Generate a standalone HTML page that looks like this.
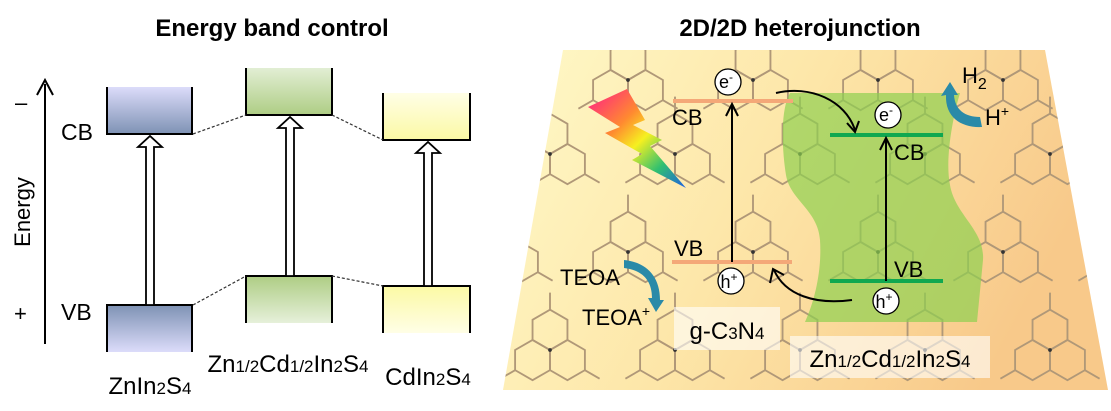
<!DOCTYPE html>
<html><head><meta charset="utf-8"><style>
html,body{margin:0;padding:0;background:#fff;}
svg{display:block;font-family:"Liberation Sans",Arial,sans-serif;}
</style></head><body>
<svg width="1111" height="411" viewBox="0 0 1111 411" xmlns="http://www.w3.org/2000/svg">
<defs>
<linearGradient id="bgG" x1="0" y1="0" x2="1" y2="0.3">
<stop offset="0" stop-color="#fff9c8"/><stop offset="0.5" stop-color="#fde6a8"/><stop offset="1" stop-color="#f8c98a"/></linearGradient>
<linearGradient id="bluCB" x1="0" y1="0" x2="0" y2="1"><stop offset="0" stop-color="#dcdcfa"/><stop offset="1" stop-color="#7e92b4"/></linearGradient>
<linearGradient id="bluVB" x1="0" y1="0" x2="0" y2="1"><stop offset="0" stop-color="#7e92b4"/><stop offset="1" stop-color="#dcdcfa"/></linearGradient>
<linearGradient id="grnCB" x1="0" y1="0" x2="0" y2="1"><stop offset="0" stop-color="#e2eed4"/><stop offset="1" stop-color="#aecd84"/></linearGradient>
<linearGradient id="grnVB" x1="0" y1="0" x2="0" y2="1"><stop offset="0" stop-color="#aecd84"/><stop offset="1" stop-color="#e6f0da"/></linearGradient>
<linearGradient id="ylwCB" x1="0" y1="0" x2="0" y2="1"><stop offset="0" stop-color="#fffee6"/><stop offset="1" stop-color="#fbf9a4"/></linearGradient>
<linearGradient id="ylwVB" x1="0" y1="0" x2="0" y2="1"><stop offset="0" stop-color="#fbf9a4"/><stop offset="1" stop-color="#fffee6"/></linearGradient>
<linearGradient id="bolt" gradientUnits="userSpaceOnUse" x1="595" y1="95" x2="685" y2="188">
<stop offset="0" stop-color="#ff2f7a"/><stop offset="0.3" stop-color="#ff8a30"/><stop offset="0.5" stop-color="#f6f020"/><stop offset="0.75" stop-color="#30c070"/><stop offset="1" stop-color="#2060e0"/></linearGradient>
<clipPath id="para"><polygon points="563,50 1045,50 1108,390 503,390"/></clipPath>
<symbol id="hz" overflow="visible">
<g fill="none" stroke="#b09878" stroke-width="1.2">
<polygon points="0,-26 11.26,-19.5 11.26,-6.5 0,0 -11.26,-6.5 -11.26,-19.5"/>
<polygon points="11.26,-6.5 22.52,0 22.52,13 11.26,19.5 0,13 0,0"/>
<polygon points="-11.26,-6.5 0,0 0,13 -11.26,19.5 -22.52,13 -22.52,0"/>
<path d="M0,-26V-37M22.52,13L32,18.5M-22.52,13L-32,18.5"/>
</g>
<circle r="1.2" fill="#333"/>
</symbol>
</defs>

<!-- LEFT PANEL -->
<text x="272" y="36" font-size="24" font-weight="bold" text-anchor="middle">Energy band control</text>
<line x1="45" y1="344" x2="45" y2="84" stroke="#000" stroke-width="2"/>
<polyline points="37,95 45,80 53,95" fill="none" stroke="#000" stroke-width="2"/>
<text x="15" y="110" font-size="22">–</text>
<text x="14" y="321" font-size="22">+</text>
<text transform="translate(30,212) rotate(-90)" font-size="22" text-anchor="middle">Energy</text>
<text x="61" y="140" font-size="23">CB</text>
<text x="61" y="320" font-size="23">VB</text>

<rect x="107" y="87" width="85" height="47" fill="url(#bluCB)"/>
<polyline points="107,87 107,134 192,134 192,87" fill="none" stroke="#000" stroke-width="2"/>
<rect x="107" y="305" width="85" height="47" fill="url(#bluVB)"/>
<polyline points="107,352 107,305 192,305 192,352" fill="none" stroke="#000" stroke-width="2"/>

<rect x="246" y="68" width="86" height="47" fill="url(#grnCB)"/>
<polyline points="246,68 246,115 332,115 332,68" fill="none" stroke="#000" stroke-width="2"/>
<rect x="246" y="276" width="86" height="47" fill="url(#grnVB)"/>
<polyline points="246,323 246,276 332,276 332,323" fill="none" stroke="#000" stroke-width="2"/>

<rect x="383" y="93" width="87" height="47" fill="url(#ylwCB)"/>
<polyline points="383,93 383,140 470,140 470,93" fill="none" stroke="#000" stroke-width="2"/>
<rect x="383" y="286" width="87" height="47" fill="url(#ylwVB)"/>
<polyline points="383,333 383,286 470,286 470,333" fill="none" stroke="#000" stroke-width="2"/>

<g stroke="#333" stroke-width="1.2" stroke-dasharray="3,2">
<line x1="193" y1="134" x2="246" y2="115"/><line x1="332" y1="115" x2="383" y2="140"/>
<line x1="193" y1="305" x2="246" y2="276"/><line x1="332" y1="276" x2="383" y2="286"/>
</g>
<g fill="#fff" stroke="#000" stroke-width="1.8">
<polygon points="146,305 146,147 138,147 150,136 162,147 154,147 154,305"/>
<polygon points="286,276 286,128 278,128 290,117 302,128 294,128 294,276"/>
<polygon points="424,286 424,153 416,153 428,142 440,153 432,153 432,286"/>
</g>
<text x="150" y="394" font-size="24" text-anchor="middle">ZnIn<tspan font-size="17">2</tspan>S<tspan font-size="17">4</tspan></text>
<text x="288" y="372" font-size="24" text-anchor="middle">Zn<tspan font-size="17">1/2</tspan>Cd<tspan font-size="17">1/2</tspan>In<tspan font-size="17">2</tspan>S<tspan font-size="17">4</tspan></text>
<text x="428" y="385" font-size="24" text-anchor="middle">CdIn<tspan font-size="17">2</tspan>S<tspan font-size="17">4</tspan></text>

<!-- RIGHT PANEL -->
<text x="800" y="36" font-size="24" font-weight="bold" text-anchor="middle">2D/2D heterojunction</text>
<polygon points="563,50 1045,50 1108,390 503,390" fill="url(#bgG)"/>
<g clip-path="url(#para)">
<use href="#hz" transform="translate(550,350) scale(1.55)"/>
<use href="#hz" transform="translate(675,350) scale(1.55)"/>
<use href="#hz" transform="translate(800,350) scale(1.55)"/>
<use href="#hz" transform="translate(925,350) scale(1.55)"/>
<use href="#hz" transform="translate(1050,350) scale(1.55)"/>
<use href="#hz" transform="translate(503,252) scale(1.55)"/>
<use href="#hz" transform="translate(628,252) scale(1.55)"/>
<use href="#hz" transform="translate(753,252) scale(1.55)"/>
<use href="#hz" transform="translate(878,252) scale(1.55)"/>
<use href="#hz" transform="translate(1003,252) scale(1.55)"/>
<use href="#hz" transform="translate(1128,252) scale(1.55)"/>
<use href="#hz" transform="translate(550,154) scale(1.55)"/>
<use href="#hz" transform="translate(675,154) scale(1.55)"/>
<use href="#hz" transform="translate(800,154) scale(1.55)"/>
<use href="#hz" transform="translate(925,154) scale(1.55)"/>
<use href="#hz" transform="translate(1050,154) scale(1.55)"/>
<use href="#hz" transform="translate(628,80) scale(1.55)"/>
<use href="#hz" transform="translate(753,80) scale(1.55)"/>
<use href="#hz" transform="translate(878,80) scale(1.55)"/>
<use href="#hz" transform="translate(1003,80) scale(1.55)"/>
</g>

<path d="M790,93 L960,93 C952,120 945,160 950,185 C955,215 985,230 983,260 L977,322 L805,322 C815,300 822,270 820,240 C818,210 790,200 786,175 C782,150 780,110 790,93 Z" fill="#8fd050" fill-opacity="0.7"/>

<polygon points="588,107 627,89 645,120 633,125 662,140 650,146 686,188 632,160 642,154 605,133 620,127" fill="url(#bolt)"/>

<line x1="673" y1="101" x2="793" y2="101" stroke="#f4a878" stroke-width="4"/>
<line x1="672" y1="262" x2="792" y2="262" stroke="#f4a878" stroke-width="4"/>
<line x1="830" y1="135" x2="943" y2="135" stroke="#10a850" stroke-width="4"/>
<line x1="830" y1="281" x2="943" y2="281" stroke="#10a850" stroke-width="4"/>

<g stroke="#000" stroke-width="2" fill="none">
<line x1="732" y1="262" x2="732" y2="104"/><polyline points="726,116 732,104 738,116"/>
<line x1="886" y1="281" x2="886" y2="138"/><polyline points="880,150 886,138 892,150"/>
<path d="M776,93 C810,85 845,100 855,130"/><polyline points="847,123 855,132 859,121"/>
<path d="M852,300 C815,305 785,295 774,270"/><polyline points="770,283 773,269 784,275"/>
</g>

<g font-size="22">
<text x="672" y="125">CB</text>
<text x="674" y="256">VB</text>
<text x="894" y="160">CB</text>
<text x="894" y="277">VB</text>
</g>

<g stroke="#000" stroke-width="1.3" fill="#fff">
<circle cx="728" cy="82" r="13"/><circle cx="888" cy="115" r="13"/>
<circle cx="731" cy="281" r="13"/><circle cx="886" cy="301" r="13"/>
</g>
<g font-size="18" text-anchor="middle">
<text x="726" y="88">e<tspan font-size="12" dy="-7">-</tspan></text>
<text x="886" y="121">e<tspan font-size="12" dy="-7">-</tspan></text>
<text x="729" y="288">h<tspan font-size="12" dy="-7">+</tspan></text>
<text x="884" y="308">h<tspan font-size="12" dy="-7">+</tspan></text>
</g>

<path d="M624,260 C645,262 660,275 660,300 L664,300 L656,312 L648,298 L652,298 C652,280 642,270 624,268 Z" fill="#2a8aa8"/>
<path d="M982,127 C962,128 945,118 946,95 L941,96 L950,82 L958,95 L954,95 C955,110 965,117 980,117 Z" fill="#2a8aa8"/>

<g font-size="22">
<text x="560" y="285">TEOA</text>
<text x="582" y="325">TEOA<tspan font-size="14" dy="-9">+</tspan></text>
<text x="962" y="83">H<tspan font-size="16" dy="6">2</tspan></text>
<text x="985" y="125">H<tspan font-size="14" dy="-9">+</tspan></text>
</g>

<rect x="674" y="307" width="106" height="43" fill="#fff" fill-opacity="0.6"/>
<text x="727" y="339" font-size="24" text-anchor="middle">g-C<tspan font-size="17">3</tspan>N<tspan font-size="17">4</tspan></text>
<rect x="790" y="336" width="200" height="42" fill="#fff" fill-opacity="0.6"/>
<text x="890" y="367" font-size="24" text-anchor="middle">Zn<tspan font-size="17">1/2</tspan>Cd<tspan font-size="17">1/2</tspan>In<tspan font-size="17">2</tspan>S<tspan font-size="17">4</tspan></text>
</svg>
</body></html>
